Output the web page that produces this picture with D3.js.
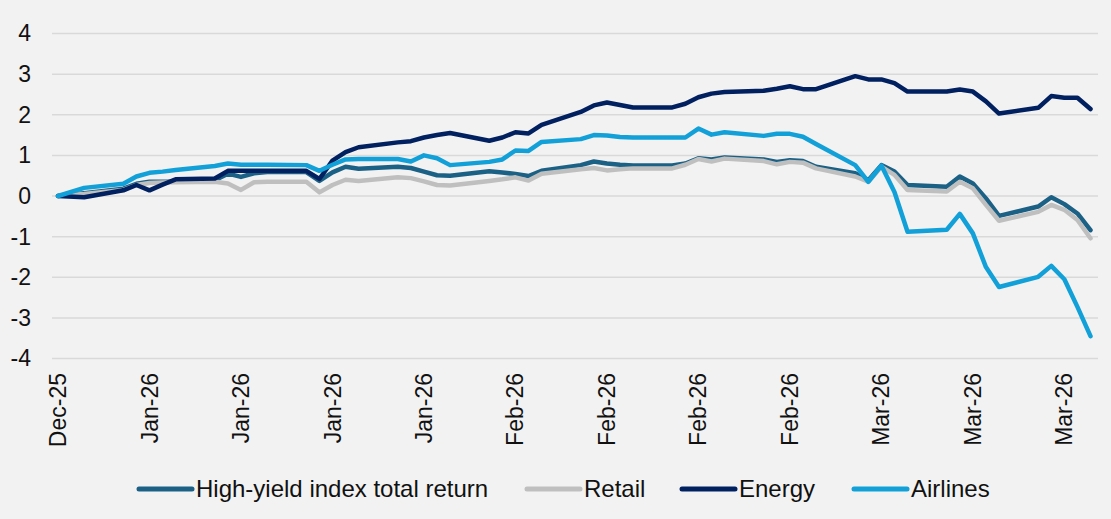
<!DOCTYPE html>
<html>
<head>
<meta charset="utf-8">
<script src="https://cdn.jsdelivr.net/npm/d3@7"></script>
<style>
  html, body { margin: 0; padding: 0; background: #f2f2f2; }
  svg { display: block; }
</style>
</head>
<body>
<svg id="chart" width="1111" height="519"></svg>
<script>
// business days, Dec-25 to Mar-26
const dates = [
  "2025-12-31", "2026-01-02",
  "2026-01-05", "2026-01-06", "2026-01-07", "2026-01-08", "2026-01-09",
  "2026-01-12", "2026-01-13", "2026-01-14", "2026-01-15", "2026-01-16",
  "2026-01-19", "2026-01-20", "2026-01-21", "2026-01-22", "2026-01-23",
  "2026-01-26", "2026-01-27", "2026-01-28", "2026-01-29", "2026-01-30",
  "2026-02-02", "2026-02-03", "2026-02-04", "2026-02-05", "2026-02-06",
  "2026-02-09", "2026-02-10", "2026-02-11", "2026-02-12", "2026-02-13",
  "2026-02-16", "2026-02-17", "2026-02-18", "2026-02-19", "2026-02-20",
  "2026-02-23", "2026-02-24", "2026-02-25", "2026-02-26", "2026-02-27",
  "2026-03-02", "2026-03-03", "2026-03-04", "2026-03-05", "2026-03-06",
  "2026-03-09", "2026-03-10", "2026-03-11", "2026-03-12", "2026-03-13",
  "2026-03-16", "2026-03-17", "2026-03-18", "2026-03-19", "2026-03-20"
];

const highYield = [
  0, 0.07,
  0.18, 0.3, 0.35, 0.35, 0.35,
  0.39, 0.55, 0.47, 0.56, 0.59,
  0.59, 0.37, 0.58, 0.72, 0.67,
  0.72, 0.69, 0.6, 0.51, 0.5,
  0.61, 0.58, 0.54, 0.49, 0.62,
  0.76, 0.85, 0.8, 0.77, 0.75,
  0.75, 0.8, 0.93, 0.9, 0.95,
  0.9, 0.84, 0.88, 0.86, 0.72,
  0.56, 0.39, 0.76, 0.6, 0.27,
  0.23, 0.48, 0.31, -0.06, -0.49,
  -0.26, -0.03, -0.2, -0.43, -0.84
];

const retail = [
  0, 0.05,
  0.15, 0.27, 0.32, 0.33, 0.34,
  0.35, 0.31, 0.15, 0.34, 0.35,
  0.35, 0.09, 0.27, 0.4, 0.37,
  0.46, 0.44, 0.36, 0.27, 0.26,
  0.37, 0.41, 0.46, 0.38, 0.55,
  0.66, 0.69, 0.63, 0.66, 0.68,
  0.68, 0.77, 0.91, 0.85, 0.92,
  0.86, 0.78, 0.84, 0.82, 0.68,
  0.48, 0.35, 0.72, 0.52, 0.15,
  0.11, 0.35, 0.19, -0.22, -0.61,
  -0.39, -0.22, -0.34, -0.59, -1.04
];

const energy = [
  0, -0.03,
  0.14, 0.27, 0.14, 0.28, 0.41,
  0.43, 0.62, 0.62, 0.62, 0.62,
  0.62, 0.42, 0.87, 1.08, 1.2,
  1.32, 1.35, 1.44, 1.5, 1.55,
  1.36, 1.44, 1.57, 1.54, 1.75,
  2.07, 2.23, 2.3, 2.24, 2.18,
  2.18, 2.27, 2.43, 2.52, 2.56,
  2.59, 2.64, 2.7, 2.63, 2.63,
  2.95, 2.87, 2.87, 2.78, 2.57,
  2.57, 2.62, 2.57, 2.33, 2.03,
  2.17, 2.46, 2.42, 2.42, 2.14
];

const airlines = [
  0, 0.2,
  0.3, 0.48, 0.57, 0.6, 0.64,
  0.74, 0.8, 0.77, 0.77, 0.77,
  0.76, 0.62, 0.77, 0.9, 0.91,
  0.91, 0.85, 1.0, 0.93, 0.76,
  0.84, 0.9, 1.12, 1.11, 1.33,
  1.4, 1.5, 1.49, 1.45, 1.44,
  1.44, 1.44, 1.66, 1.51, 1.57,
  1.48, 1.53, 1.53, 1.46, 1.28,
  0.76, 0.35, 0.75, 0.1, -0.88,
  -0.83, -0.44, -0.92, -1.75, -2.24,
  -1.99, -1.72, -2.05, -2.73, -3.45
];

const seriesNames = ["High-yield index total return", "Retail", "Energy", "Airlines"];
const seriesColors = ["#1b6085", "#bfbfbf", "#002060", "#12a0d8"];
const tickDates = [
  "2025-12-31", "2026-01-07", "2026-01-14", "2026-01-21", "2026-01-28",
  "2026-02-04", "2026-02-11", "2026-02-18", "2026-02-25",
  "2026-03-04", "2026-03-11", "2026-03-18"
];
const yTicks = [-4, -3, -2, -1, 0, 1, 2, 3, 4];

const parse = d3.timeParse("%Y-%m-%d");
const fontFamily = "'Liberation Sans', Arial, sans-serif";

var svg = d3.select("#chart");

var x = d3.scaleTime()
    .domain([parse(dates[0]), parse(dates[dates.length - 1])])
    .range([58, 1090.5]);

var y = d3.scaleLinear()
    .domain([-4, 4])
    .range([358.5, 33.5]);

// gridlines
svg.append("g")
    .attr("class", "grid")
    .selectAll("line")
    .data(yTicks)
    .enter()
    .append("line")
    .attr("x1", 52)
    .attr("x2", 1098)
    .attr("y1", d => y(d))
    .attr("y2", d => y(d))
    .attr("stroke", "#d9d9d9")
    .attr("stroke-width", 1.5);

// y axis labels (plain hyphen like the original)
var yAxis = svg.append("g")
    .attr("transform", "translate(31,0)")
    .call(d3.axisLeft(y).tickValues(yTicks).tickSize(0).tickPadding(0).tickFormat(d => String(d)));
yAxis.select(".domain").remove();
yAxis.selectAll("text")
    .attr("font-family", fontFamily)
    .attr("font-size", 23)
    .attr("fill", "#111");

// x axis labels, rotated
var fmt = d3.timeFormat("%b-%y");
svg.append("g")
    .attr("class", "x-labels")
    .selectAll("text")
    .data(tickDates)
    .enter()
    .append("text")
    .attr("transform", d => `translate(${x(parse(d))},373) rotate(-90)`)
    .attr("text-anchor", "end")
    .attr("dy", "0.35em")
    .attr("font-family", fontFamily)
    .attr("font-size", 23)
    .attr("fill", "#111")
    .text(d => fmt(parse(d)));

// lines
var allSeries = [highYield, retail, energy, airlines];
var line = d3.line()
    .x((d, i) => x(parse(dates[i])))
    .y(d => y(d));

svg.append("g")
    .attr("class", "lines")
    .selectAll("path")
    .data(allSeries)
    .enter()
    .append("path")
    .attr("d", d => line(d))
    .attr("fill", "none")
    .attr("stroke", (d, i) => seriesColors[i])
    .attr("stroke-width", 4.5)
    .attr("stroke-linejoin", "round")
    .attr("stroke-linecap", "round");

// legend
const legendX = [137, 525, 680, 852];
var legend = svg.append("g")
    .attr("class", "legend")
    .selectAll("g")
    .data(seriesNames)
    .enter()
    .append("g")
    .attr("transform", (d, i) => `translate(${legendX[i]},489)`);

legend.append("line")
    .attr("x1", 2)
    .attr("x2", 55)
    .attr("stroke", (d, i) => seriesColors[i])
    .attr("stroke-width", 5)
    .attr("stroke-linecap", "round");

legend.append("text")
    .attr("x", 59)
    .attr("dy", "0.35em")
    .attr("font-family", fontFamily)
    .attr("font-size", 24)
    .attr("fill", "#111")
    .text(d => d);
</script>
</body>
</html>
